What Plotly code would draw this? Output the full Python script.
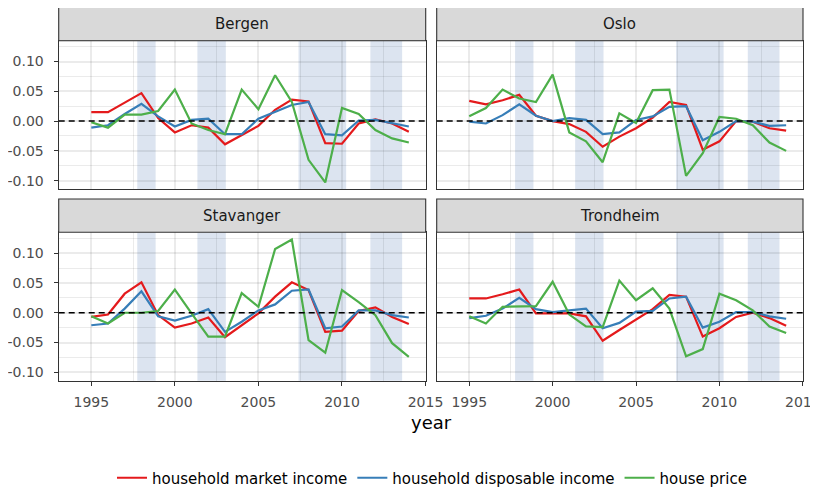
import plotly.graph_objects as go

years = list(range(1995, 2015))
cities = ["Bergen", "Oslo", "Stavanger", "Trondheim"]

bergen_market = [0.015, 0.015, 0.031, 0.047, 0.005, -0.019, -0.007, -0.011, -0.039, -0.024,
                 -0.008, 0.019, 0.036, 0.033, -0.037, -0.038, -0.004, 0.003, -0.004, -0.018]
bergen_disp = [-0.011, -0.007, 0.012, 0.029, 0.008, -0.009, 0.002, 0.004, -0.022, -0.022,
               0.004, 0.016, 0.027, 0.032, -0.022, -0.024, 0.001, 0.002, -0.003, -0.009]
bergen_house = [-0.002, -0.011, 0.011, 0.011, 0.017, 0.053, -0.004, -0.015, -0.022, 0.053,
                0.020, 0.077, 0.032, -0.065, -0.103, 0.022, 0.012, -0.015, -0.029, -0.036]

oslo_market = [0.034, 0.028, 0.035, 0.044, 0.009, 0.000, -0.005, -0.018, -0.043, -0.026,
               -0.012, 0.006, 0.032, 0.027, -0.048, -0.034, 0.000, -0.001, -0.012, -0.016]
oslo_disp = [-0.001, -0.004, 0.010, 0.028, 0.009, 0.000, 0.005, 0.002, -0.022, -0.019,
             0.002, 0.008, 0.024, 0.025, -0.032, -0.018, 0.000, -0.001, -0.008, -0.007]
oslo_house = [0.008, 0.022, 0.053, 0.038, 0.032, 0.078, -0.019, -0.034, -0.069, 0.013,
              -0.003, 0.052, 0.053, -0.092, -0.054, 0.007, 0.004, -0.007, -0.036, -0.050]

stavanger_market = [-0.007, -0.003, 0.032, 0.051, -0.004, -0.025, -0.018, -0.008, -0.041, -0.021,
                    -0.001, 0.027, 0.051, 0.038, -0.032, -0.030, 0.003, 0.009, -0.007, -0.019]
stavanger_disp = [-0.021, -0.018, 0.007, 0.036, -0.006, -0.013, -0.005, 0.006, -0.032, -0.015,
                  0.004, 0.014, 0.037, 0.039, -0.026, -0.023, 0.004, 0.004, -0.004, -0.008]
stavanger_house = [-0.006, -0.018, 0.000, 0.000, 0.003, 0.039, -0.001, -0.040, -0.040, 0.033,
                   0.010, 0.107, 0.123, -0.046, -0.067, 0.038, 0.018, -0.004, -0.051, -0.074]

trondheim_market = [0.024, 0.024, 0.031, 0.039, -0.001, -0.001, -0.001, -0.006, -0.047, -0.029,
                    -0.012, 0.006, 0.030, 0.027, -0.040, -0.026, -0.007, 0.000, -0.009, -0.022]
trondheim_disp = [-0.009, -0.005, 0.007, 0.025, 0.006, 0.001, 0.004, 0.007, -0.026, -0.017,
                  0.002, 0.003, 0.024, 0.027, -0.025, -0.015, 0.001, 0.001, -0.006, -0.010]
trondheim_house = [-0.006, -0.018, 0.010, 0.011, 0.011, 0.052, -0.003, -0.023, -0.024, 0.054,
                   0.021, 0.041, 0.007, -0.073, -0.061, 0.032, 0.021, 0.004, -0.023, -0.034]

series_names = ["household market income", "household disposable income", "house price"]
series_colors = ["#E41A1C", "#377EB8", "#4DAF4A"]

band_starts = [1997.75, 2001.35, 2007.4, 2011.7]
band_ends = [1998.85, 2003.05, 2010.25, 2013.6]

x_ticks = [1995, 2000, 2005, 2010, 2015]
y_ticks = [-0.10, -0.05, 0.00, 0.05, 0.10]
y_ticklabels = ["-0.10", "-0.05", "0.00", "0.05", "0.10"]

data = {
    "Bergen": [bergen_market, bergen_disp, bergen_house],
    "Oslo": [oslo_market, oslo_disp, oslo_house],
    "Stavanger": [stavanger_market, stavanger_disp, stavanger_house],
    "Trondheim": [trondheim_market, trondheim_disp, trondheim_house],
}

W, H = 818, 487
OFF = 8.0  # page body margin
FONT = "DejaVu Sans"
GRID = "rgba(0,0,0,0.08)"

cols = [(58.7 - OFF, 425.7 - OFF), (436.7 - OFF, 803.0 - OFF)]
rows = [(40.7 - OFF, 189.0 - OFF), (232.3 - OFF, 380.7 - OFF)]
strips = [(7.3 - OFF, 40.7 - OFF), (199.0 - OFF, 232.3 - OFF)]

fig = go.Figure()
layout = dict(
    width=W, height=H,
    margin=dict(l=0, r=0, t=0, b=0),
    paper_bgcolor="white", plot_bgcolor="white",
    font=dict(family=FONT, size=14, color="#4d4d4d"),
    showlegend=True,
    legend=dict(orientation="h", x=(432 - OFF) / W, xanchor="center",
                y=1 - (478 - OFF) / H, yanchor="middle",
                font=dict(family=FONT, size=15, color="black"), bgcolor="rgba(0,0,0,0)",
                itemwidth=30, tracegroupgap=0),
)
shapes = []
annotations = []

for i, city in enumerate(cities):
    r, c = divmod(i, 2)
    n = i + 1
    xs = "" if n == 1 else str(n)
    xl, xr = cols[c]
    yt, yb = rows[r]
    layout["xaxis" + xs] = dict(
        domain=[xl / W, xr / W], anchor="y" + xs, range=[1993.05, 2015.01],
        tickvals=x_ticks, showticklabels=(r == 1), ticks="outside" if r == 1 else "",
        ticklen=4, tickwidth=1.1, tickcolor="#333333", ticklabelstandoff=4,
        tickfont=dict(family=FONT, size=14, color="#4d4d4d"),
        showgrid=True, gridcolor=GRID, gridwidth=1.8,
        minor=dict(dtick=5, tick0=1997.5, showgrid=True, gridcolor=GRID, gridwidth=0.9),
        showline=True, linecolor="#333333", linewidth=1.3, mirror=True,
        zeroline=False, automargin=False, fixedrange=True,
    )
    layout["yaxis" + xs] = dict(
        domain=[1 - yb / H, 1 - yt / H], anchor="x" + xs, range=[-0.114, 0.135],
        tickvals=y_ticks, ticktext=y_ticklabels, showticklabels=(c == 0),
        ticks="outside" if c == 0 else "", ticklen=4, tickwidth=1.1, tickcolor="#333333",
        ticklabelstandoff=7, tickfont=dict(family=FONT, size=14, color="#4d4d4d"),
        showgrid=True, gridcolor=GRID, gridwidth=1.8,
        minor=dict(dtick=0.05, tick0=0.025, showgrid=True, gridcolor=GRID, gridwidth=0.9),
        showline=True, linecolor="#333333", linewidth=1.3, mirror=True,
        zeroline=False, automargin=False, fixedrange=True,
    )
    for s0, s1 in zip(band_starts, band_ends):
        shapes.append(dict(type="rect", xref="x" + xs, yref="y" + xs + " domain",
                           x0=s0, x1=s1, y0=0, y1=1, layer="below",
                           fillcolor="#dce4f0", line=dict(width=0)))
    shapes.append(dict(type="line", xref="x" + xs + " domain", yref="y" + xs,
                       x0=0, x1=1, y0=0, y1=0, layer="above",
                       line=dict(color="black", width=1.5, dash="6px,4px")))
    st, sb = strips[r]
    shapes.append(dict(type="rect", xref="paper", yref="paper",
                       x0=xl / W, x1=xr / W, y0=1 - sb / H, y1=1 - st / H,
                       fillcolor="#d9d9d9", line=dict(color="#333333", width=1.1), layer="above"))
    annotations.append(dict(text=city, xref="paper", yref="paper",
                            x=(xl + xr) / 2 / W, y=1 - (st + sb) / 2 / H,
                            xanchor="center", yanchor="middle", showarrow=False,
                            font=dict(family=FONT, size=15, color="#1a1a1a")))
    for k, name in enumerate(series_names):
        fig.add_trace(go.Scatter(
            x=years, y=data[city][k], mode="lines", name=name,
            line=dict(color=series_colors[k], width=2.2),
            xaxis="x" + xs, yaxis="y" + xs,
            legendgroup=name, showlegend=(i == 0), hoverinfo="skip",
        ))

annotations.append(dict(text="year", xref="paper", yref="paper",
                        x=(431 - OFF) / W, y=1 - (422 - OFF) / H, xanchor="center", yanchor="middle",
                        showarrow=False, font=dict(family=FONT, size=18, color="black")))

layout["shapes"] = shapes
layout["annotations"] = annotations
fig.update_layout(**layout)
fig.write_html("out.html")
